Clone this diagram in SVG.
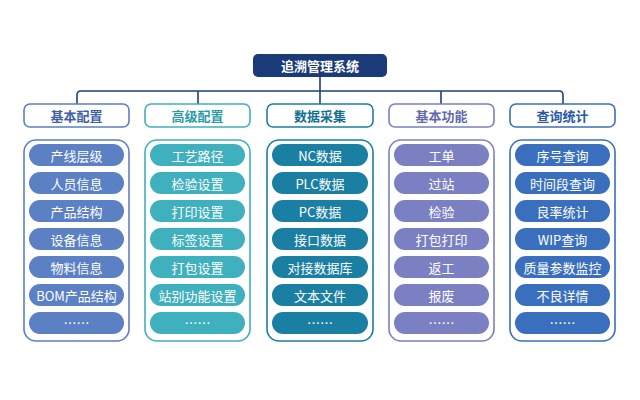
<svg xmlns="http://www.w3.org/2000/svg" width="640" height="400" viewBox="0 0 640 400">
<style>
text{font-family:"Noto Sans CJK SC","Liberation Sans",sans-serif;font-size:13px;text-anchor:middle;dominant-baseline:central}
.h{fill:#fff;stroke-width:1.6}
.c{fill:#fff;stroke-width:1.6}
.p{fill:#fff}
.ht{font-weight:bold}
</style>
<rect width="640" height="400" fill="#fff"/>
<g id="connectors" fill="none" stroke="#1f3f7f" stroke-width="1.6">
<path d="M320 77V91M77 104V95Q77 91 81 91H559Q563 91 563 95V104M198 91V104M320 91V104M441 91V104"/>
</g>
<g id="root"><rect x="253" y="54" width="134" height="23" rx="5" fill="#1b3a78"/><text x="320" y="65.5" fill="#fff" class="ht">追溯管理系统</text></g>
<g id="col1">
<rect class="h" x="24" y="104" width="105" height="23" rx="6" stroke="#5b80c4"/><text class="ht" x="76.5" y="115.5" fill="#3d5fa8">基本配置</text>
<rect class="c" x="24" y="140" width="105" height="201" rx="12" stroke="#5b80c4"/>
<g fill="#5b80c4"><rect x="29" y="144" width="95" height="22" rx="11"/><rect x="29" y="172" width="95" height="22" rx="11"/><rect x="29" y="200" width="95" height="22" rx="11"/><rect x="29" y="228" width="95" height="22" rx="11"/><rect x="29" y="256" width="95" height="22" rx="11"/><rect x="29" y="284" width="95" height="22" rx="11"/><rect x="29" y="312" width="95" height="22" rx="11"/></g>
<g fill="#fff"><text x="76.5" y="155">产线层级</text><text x="76.5" y="183">人员信息</text><text x="76.5" y="211">产品结构</text><text x="76.5" y="239">设备信息</text><text x="76.5" y="267">物料信息</text><text x="76.5" y="295">BOM产品结构</text><text x="76.5" y="322">……</text></g>
</g>
<g id="col2">
<rect class="h" x="145" y="104" width="105" height="23" rx="6" stroke="#3fb0bd"/><text class="ht" x="197.5" y="115.5" fill="#2a9aa8">高级配置</text>
<rect class="c" x="145" y="140" width="105" height="201" rx="12" stroke="#3fb0bd"/>
<g fill="#3fb0bd"><rect x="150" y="144" width="95" height="22" rx="11"/><rect x="150" y="172" width="95" height="22" rx="11"/><rect x="150" y="200" width="95" height="22" rx="11"/><rect x="150" y="228" width="95" height="22" rx="11"/><rect x="150" y="256" width="95" height="22" rx="11"/><rect x="150" y="284" width="95" height="22" rx="11"/><rect x="150" y="312" width="95" height="22" rx="11"/></g>
<g fill="#fff"><text x="197.5" y="155">工艺路径</text><text x="197.5" y="183">检验设置</text><text x="197.5" y="211">打印设置</text><text x="197.5" y="239">标签设置</text><text x="197.5" y="267">打包设置</text><text x="197.5" y="295">站别功能设置</text><text x="197.5" y="322">……</text></g>
</g>
<g id="col3">
<rect class="h" x="267" y="104" width="106" height="23" rx="6" stroke="#1a7fa3"/><text class="ht" x="320" y="115.5" fill="#136f92">数据采集</text>
<rect class="c" x="267" y="140" width="106" height="201" rx="12" stroke="#1a7fa3"/>
<g fill="#1a7fa3"><rect x="272" y="144" width="96" height="22" rx="11"/><rect x="272" y="172" width="96" height="22" rx="11"/><rect x="272" y="200" width="96" height="22" rx="11"/><rect x="272" y="228" width="96" height="22" rx="11"/><rect x="272" y="256" width="96" height="22" rx="11"/><rect x="272" y="284" width="96" height="22" rx="11"/><rect x="272" y="312" width="96" height="22" rx="11"/></g>
<g fill="#fff"><text x="320" y="155">NC数据</text><text x="320" y="183">PLC数据</text><text x="320" y="211">PC数据</text><text x="320" y="239">接口数据</text><text x="320" y="267">对接数据库</text><text x="320" y="295">文本文件</text><text x="320" y="322">……</text></g>
</g>
<g id="col4">
<rect class="h" x="389" y="104" width="105" height="23" rx="6" stroke="#7a80c2"/><text class="ht" x="441.5" y="115.5" fill="#6268ae">基本功能</text>
<rect class="c" x="389" y="140" width="105" height="201" rx="12" stroke="#7a80c2"/>
<g fill="#7a80c2"><rect x="394" y="144" width="95" height="22" rx="11"/><rect x="394" y="172" width="95" height="22" rx="11"/><rect x="394" y="200" width="95" height="22" rx="11"/><rect x="394" y="228" width="95" height="22" rx="11"/><rect x="394" y="256" width="95" height="22" rx="11"/><rect x="394" y="284" width="95" height="22" rx="11"/><rect x="394" y="312" width="95" height="22" rx="11"/></g>
<g fill="#fff"><text x="441.5" y="155">工单</text><text x="441.5" y="183">过站</text><text x="441.5" y="211">检验</text><text x="441.5" y="239">打包打印</text><text x="441.5" y="267">返工</text><text x="441.5" y="295">报废</text><text x="441.5" y="322">……</text></g>
</g>
<g id="col5">
<rect class="h" x="510" y="104" width="105" height="23" rx="6" stroke="#3a6fbd"/><text class="ht" x="562.5" y="115.5" fill="#2a5aa5">查询统计</text>
<rect class="c" x="510" y="140" width="105" height="201" rx="12" stroke="#3a6fbd"/>
<g fill="#3a6fbd"><rect x="515" y="144" width="95" height="22" rx="11"/><rect x="515" y="172" width="95" height="22" rx="11"/><rect x="515" y="200" width="95" height="22" rx="11"/><rect x="515" y="228" width="95" height="22" rx="11"/><rect x="515" y="256" width="95" height="22" rx="11"/><rect x="515" y="284" width="95" height="22" rx="11"/><rect x="515" y="312" width="95" height="22" rx="11"/></g>
<g fill="#fff"><text x="562.5" y="155">序号查询</text><text x="562.5" y="183">时间段查询</text><text x="562.5" y="211">良率统计</text><text x="562.5" y="239">WIP查询</text><text x="562.5" y="267">质量参数监控</text><text x="562.5" y="295">不良详情</text><text x="562.5" y="322">……</text></g>
</g>
</svg>
